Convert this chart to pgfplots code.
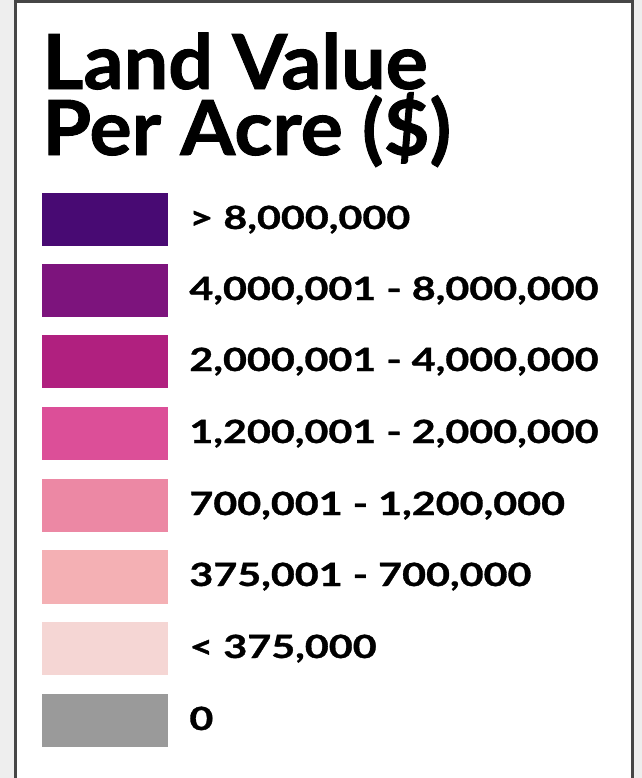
\documentclass[border=0pt]{standalone}
\usepackage{fontspec}
\setmainfont{Lato}
\newfontfamily\titlefont{Lato}[FakeStretch=1.04, BoldFeatures={FakeBold=1.2}]
\newfontfamily\labelfont{Lato}[FakeStretch=1.29, BoldFeatures={FakeBold=1.0}]
\usepackage{pgfplots}
\pgfplotsset{compat=1.18}

\definecolor{bggray}{RGB}{238,238,238}
\definecolor{frame}{RGB}{70,70,70}
\definecolor{c1}{RGB}{72,10,115}
\definecolor{c2}{RGB}{125,20,125}
\definecolor{c3}{RGB}{176,32,127}
\definecolor{c4}{RGB}{220,79,152}
\definecolor{c5}{RGB}{236,136,164}
\definecolor{c6}{RGB}{244,176,180}
\definecolor{c7}{RGB}{245,214,212}
\definecolor{c8}{RGB}{154,154,154}

\tikzset{
  lbl/.style={anchor=base west, inner sep=0pt, font=\labelfont\bfseries\fontsize{16}{19}\selectfont},
}

\begin{document}
\begin{tikzpicture}
\begin{axis}[
    width=321pt, height=389pt, scale only axis,
    xmin=0, xmax=642, ymin=0, ymax=778,
    y dir=reverse, hide axis,
]
% page background and legend box
\addplot[fill=bggray, draw=none] coordinates {(0,0)(642,0)(642,778)(0,778)} -- cycle;
\addplot[fill=white, draw=frame, line width=1.5pt] coordinates {(15,1)(632,1)(632,800)(15,800)} -- cycle;

% swatches (pixel rows of the legend)
\addplot[fill=c1, draw=none] coordinates {(42,193)(168,193)(168,246)(42,246)} -- cycle;
\addplot[fill=c2, draw=none] coordinates {(42,264)(168,264)(168,317)(42,317)} -- cycle;
\addplot[fill=c3, draw=none] coordinates {(42,335)(168,335)(168,388)(42,388)} -- cycle;
\addplot[fill=c4, draw=none] coordinates {(42,407)(168,407)(168,460)(42,460)} -- cycle;
\addplot[fill=c5, draw=none] coordinates {(42,479)(168,479)(168,532)(42,532)} -- cycle;
\addplot[fill=c6, draw=none] coordinates {(42,550)(168,550)(168,604)(42,604)} -- cycle;
\addplot[fill=c7, draw=none] coordinates {(42,622)(168,622)(168,675)(42,675)} -- cycle;
\addplot[fill=c8, draw=none] coordinates {(42,694)(168,694)(168,747)(42,747)} -- cycle;

% title, one node of two lines (anchored at the last line's baseline)
\node[anchor=base west, inner sep=0pt, align=left,
      font=\titlefont\bfseries\fontsize{38}{33}\selectfont] at (axis cs:42,155)
      {Land Value\\Per Acre (\$)};

% labels
\node[lbl] at (axis cs:189,229) {> 8,000,000};
\node[lbl] at (axis cs:189,300) {4,000,001 - 8,000,000};
\node[lbl] at (axis cs:189,371) {2,000,001 - 4,000,000};
\node[lbl] at (axis cs:189,443) {1,200,001 - 2,000,000};
\node[lbl] at (axis cs:189,515) {700,001 - 1,200,000};
\node[lbl] at (axis cs:189,586) {375,001 - 700,000};
\node[lbl] at (axis cs:189,658) {< 375,000};
\node[lbl] at (axis cs:189,730) {0};
\end{axis}
\end{tikzpicture}
\end{document}
